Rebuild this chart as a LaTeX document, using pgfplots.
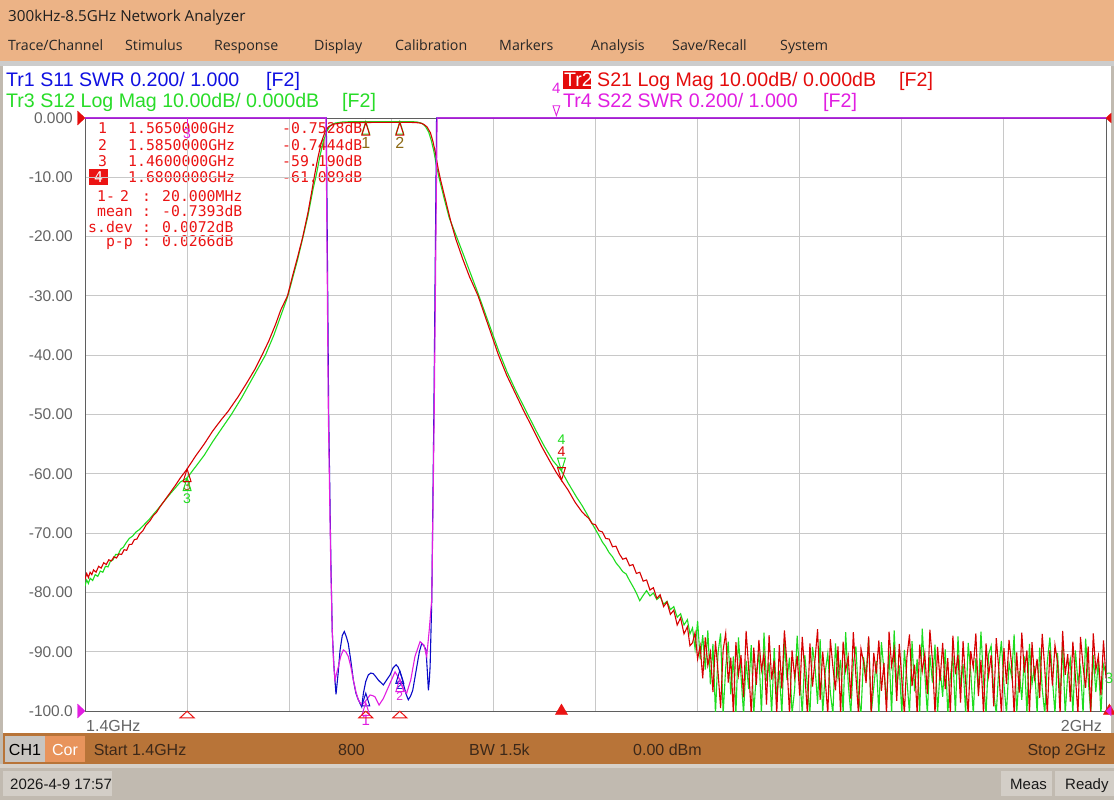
\documentclass[border=0pt]{standalone}
\usepackage{fontspec}
\usepackage{pgfplots}
\pgfplotsset{compat=1.18}
\setmainfont{Liberation Sans}
\newfontfamily\monof{DejaVu Sans Mono}
\newfontfamily\uif{Open Sans}
\newcommand{\fs}[1]{\fontsize{#1}{#1}\selectfont}
\definecolor{uiorange}{RGB}{236,179,134}
\definecolor{uistrip}{RGB}{204,204,204}
\definecolor{statbar}{RGB}{184,116,56}
\definecolor{basegray}{RGB}{193,186,176}
\definecolor{lightstrip}{RGB}{214,209,202}
\definecolor{boxgray}{RGB}{211,206,199}
\definecolor{ch1gray}{RGB}{200,197,193}
\definecolor{corcol}{RGB}{232,148,92}
\definecolor{stattext}{RGB}{60,40,25}
\definecolor{tr1}{RGB}{16,16,225}
\definecolor{tr2}{RGB}{228,12,12}
\definecolor{tr3}{RGB}{40,220,40}
\definecolor{s21}{RGB}{215,0,0}
\definecolor{s12}{RGB}{30,220,30}
\definecolor{s11}{RGB}{10,10,200}
\definecolor{s22}{RGB}{225,30,225}
\definecolor{gridc}{RGB}{200,200,200}
\definecolor{framec}{RGB}{95,95,95}
\definecolor{ticklab}{RGB}{100,100,100}
\definecolor{olivec}{RGB}{140,105,20}
\definecolor{mkred}{RGB}{235,20,20}
\begin{document}
\begin{tikzpicture}
\useasboundingbox (0,0) rectangle (1114pt,-800pt);
\begin{scope}[x=1pt,y=-1pt]
 \fill[basegray] (0,0) rectangle (1114,800);
 \fill[uiorange] (0,0) rectangle (1114,61.5);
 \fill[uistrip] (0,61.5) rectangle (1114,66);
 \fill[white] (3,66) rectangle (1111,732.5);
 \fill[statbar] (3,732.5) rectangle (1114,764);
 \fill[lightstrip] (0,764) rectangle (1114,767.5);
 \fill[ch1gray] (5,736) rectangle (45,761.5);
 \fill[corcol] (45,736) rectangle (85,761.5);
 \fill[boxgray] (3,771) rectangle (112,796);
 \fill[boxgray] (1001,771) rectangle (1052,796);
 \fill[boxgray] (1055,771) rectangle (1114,796);
 % title and menu
 \node[anchor=base west,inner sep=0,font=\uif\fs{15.2},text=black!88] at (8,21.5) {300kHz-8.5GHz Network Analyzer};
 \begin{scope}[every node/.style={anchor=base west,inner sep=0,font=\uif\fs{14.2},text=black!85}]
 \node at (8,50.5) {Trace/Channel};
 \node at (125,50.5) {Stimulus};
 \node at (214,50.5) {Response};
 \node at (314,50.5) {Display};
 \node at (395,50.5) {Calibration};
 \node at (499,50.5) {Markers};
 \node at (591,50.5) {Analysis};
 \node at (672,50.5) {Save/Recall};
 \node at (780,50.5) {System};
 \end{scope}
 % trace headers
 \begin{scope}[every node/.style={anchor=base west,inner sep=0,font=\fs{19.6}}]
 \node[text=tr1] at (6,87) {Tr1 S11 SWR 0.200/ 1.000};
 \node[text=tr1] at (266,87) {[F2]};
 \node[text=tr3] at (6,107) {Tr3 S12 Log Mag 10.00dB/ 0.000dB};
 \node[text=tr3] at (342,107) {[F2]};
 \fill[tr2] (563,71) rectangle (591,89.5);
 \node[text=white] at (564,87) {Tr2};
 \node[text=tr2] at (597,87) {S21 Log Mag 10.00dB/ 0.000dB};
 \node[text=tr2] at (899,87) {[F2]};
 \node[text=s22] at (563,107) {Tr4 S22 SWR 0.200/ 1.000};
 \node[text=s22] at (823,107) {[F2]};
 \end{scope}
 % marker table
 \begin{scope}[every node/.style={inner sep=0,font=\monof\fs{14.8},text=mkred}]
 \node[anchor=base] at (102.5,133) {1};
 \node[anchor=base west] at (128,133) {1.5650000GHz};
 \node[anchor=base west] at (282,133) {-0.7528dB};
 \node[anchor=base] at (102.5,150) {2};
 \node[anchor=base west] at (128,150) {1.5850000GHz};
 \node[anchor=base west] at (282,150) {-0.7444dB};
 \node[anchor=base] at (102.5,166) {3};
 \node[anchor=base west] at (128,166) {1.4600000GHz};
 \node[anchor=base west] at (282,166) {-59.190dB};
 \fill[mkred] (89,169) rectangle (108,184.5);
 \node[anchor=base,text=white] at (98.5,182) {4};
 \node[anchor=base west] at (128,182) {1.6800000GHz};
 \node[anchor=base west] at (282,182) {-61.089dB};
 \node[anchor=base west] at (97,201.5) {1-};
 \node[anchor=base west] at (120,201.5) {2};
 \node[anchor=base] at (146.5,201.5) {:};
 \node[anchor=base west] at (162,201.5) {20.000MHz};
 \node[anchor=base east] at (133,216.5) {mean};
 \node[anchor=base] at (146.5,216.5) {:};
 \node[anchor=base west] at (162,216.5) {-0.7393dB};
 \node[anchor=base east] at (133,232) {s.dev};
 \node[anchor=base] at (146.5,232) {:};
 \node[anchor=base west] at (162,232) {0.0072dB};
 \node[anchor=base east] at (133,246.5) {p-p};
 \node[anchor=base] at (146.5,246.5) {:};
 \node[anchor=base west] at (162,246.5) {0.0266dB};
 \end{scope}
 % axis end labels
 \node[anchor=base west,inner sep=0,font=\fs{16},text=ticklab] at (86,731) {1.4GHz};
 \node[anchor=base east,inner sep=0,font=\fs{16},text=ticklab] at (1102,731) {2GHz};
 \node[inner sep=0,font=\fs{15},text=tr3] at (1109,678) {3};
 % status bar
 \begin{scope}[every node/.style={inner sep=0,font=\fs{16},text=stattext}]
 \node[anchor=base,text=black] at (25,755) {CH1};
 \node[anchor=base,text=white] at (65,755) {Cor};
 \node[anchor=base west] at (93.6,755) {Start 1.4GHz};
 \node[anchor=base west] at (338,755) {800};
 \node[anchor=base west] at (469,755) {BW 1.5k};
 \node[anchor=base west] at (633,755) {0.00 dBm};
 \node[anchor=base east] at (1106,755) {Stop 2GHz};
 \end{scope}
 \begin{scope}[every node/.style={inner sep=0,font=\fs{15},text=black!90,anchor=base west}]
 \node at (10,789) {2026-4-9 17:57};
 \node at (1010,789) {Meas};
 \node at (1065,789) {Ready};
 \end{scope}
\end{scope}

% ---------------- main dB axis (S21, S12)
\begin{axis}[
  at={(85pt,-711pt)}, anchor=south west,
  width=1021pt, height=593pt, scale only axis,
  xmin=1400, xmax=2000, ymin=-100, ymax=0,
  xtick={1400,1460,...,2000}, xticklabels={},
  ytick={-100,-90,...,0},
  yticklabels={-100.0,-90.00,-80.00,-70.00,-60.00,-50.00,-40.00,-30.00,-20.00,-10.00,0.000},
  grid=major, major grid style={gridc, line width=1pt},
  major tick length=0pt,
  axis line style={framec, line width=1pt},
  yticklabel style={font={\fs{15.5}}, text=ticklab, anchor=east, inner sep=0pt, xshift=-12pt},
  clip=true,
]
% S12 (green)
\addplot[s12, line width=1.1pt] coordinates {
(1400,-78.9) (1401,-77.9) (1402,-78.5) (1403,-77.6) (1404.5,-78) (1406,-77) (1407.5,-77.3) (1409,-76.4) (1410.5,-76.6) (1412,-75.6)
(1413.5,-75.7) (1415,-74.7) (1416.5,-74.5) (1418,-73.6) (1419.5,-73.6) (1421,-72.7) (1422.5,-72.4) (1424,-71.7) (1426,-70.9) (1428,-70.5)
(1430,-69.8) (1432,-69.4) (1434,-68.8) (1436,-68.2) (1438,-67.6) (1440,-66.9) (1443,-65.9) (1446,-64.8) (1450,-63.4) (1453,-62.4)
(1456,-61.4) (1460,-60.7) (1465,-58.8) (1470,-56.9) (1475,-54.6) (1480,-52.5) (1486,-50) (1492,-47.2) (1498,-44.1) (1506,-40)
(1511,-36.6) (1515,-33.4) (1519,-30.2) (1522,-27) (1525,-23.8) (1528,-20.2) (1531,-16.5) (1534,-12) (1536,-9.5) (1538,-6.5)
(1540,-4) (1542,-2.3) (1544,-1.3) (1547,-0.85) (1552,-0.65) (1565,-0.6) (1590,-0.6) (1595,-0.66) (1598,-0.9) (1600,-1.4)
(1602,-2.4) (1603.5,-3.8) (1605,-5.6) (1606.5,-8) (1608,-10) (1611,-13.5) (1614,-16.8) (1619,-20.5) (1623,-23.5) (1626,-25.8)
(1631,-29.6) (1637,-34.4) (1643,-39.2) (1648,-42.8) (1653,-45.9) (1659,-49.3) (1665,-52.7) (1670,-55.4) (1675,-57.8) (1680,-59.5)
(1684,-61.6) (1689,-64) (1692,-65.3) (1695,-66.8) (1698,-68.4) (1700,-69.4) (1702,-70.4) (1704,-71.5) (1706,-72.3) (1708,-73.3)
(1710,-74) (1712,-75) (1714,-75.7) (1716,-76.5) (1718,-76.9) (1720,-78) (1722,-79) (1724,-80.1) (1726,-81.4) (1728,-80.5)
(1730,-79.7) (1732,-80.6) (1734,-80.1) (1736,-81.2) (1738,-80.7) (1740,-82) (1742,-81.5) (1744,-82.9) (1746,-82.4) (1748,-84.2)
(1750,-83.6) (1752,-85.5) (1754,-84.6) (1755.5,-87)
(1757,-86) (1758.5,-89.5) (1760,-84.8) (1761.5,-91.3) (1763,-87.2) (1764.5,-93) (1766,-86.4) (1767.5,-95.5) (1769,-88.7) (1770.5,-100.5)
(1772,-90.2) (1773.5,-86.9) (1775,-100.5) (1776.5,-92.7) (1778,-88.3) (1779.5,-97.2) (1781,-90.8) (1782.5,-100.5) (1784,-87.6) (1785.5,-94.1)
(1787,-100.5) (1788.5,-91.5) (1790,-96.3) (1791.5,-88.9) (1793,-100.5) (1794.5,-93.6) (1796,-90.1) (1797.5,-100.5) (1799,-86.8) (1800.5,-95)
(1802,-91.8) (1803.5,-100.5) (1805,-89.4) (1806.5,-97.7) (1808,-93.2) (1809.5,-100.5) (1811,-88.1) (1812.5,-94.8) (1814,-91) (1815.5,-100.5)
(1817,-96.4) (1818.5,-87.3) (1820,-93.9) (1821.5,-100.5) (1823,-90.6) (1824.5,-95.8) (1826,-100.5) (1827.5,-89.2) (1829,-92.5) (1830.5,-98.8)
(1832,-87.9) (1833.5,-100.5) (1835,-93.4) (1836.5,-90.3) (1838,-96.9) (1839.5,-100.5) (1841,-88.6) (1842.5,-94.5) (1844,-91.4) (1845.5,-100.5)
(1847,-86.7) (1848.5,-95.3) (1850,-100.5) (1851.5,-92) (1853,-89.1) (1854.5,-97.4) (1856,-100.5) (1857.5,-90.9) (1859,-94) (1860.5,-87.8)
(1862,-100.5) (1863.5,-96) (1865,-91.6) (1866.5,-100.5) (1868,-88.4) (1869.5,-93.1) (1871,-98.5) (1872.5,-90) (1874,-100.5) (1875.5,-86.4)
(1877,-95.6) (1878.5,-92.3) (1880,-100.5) (1881.5,-89.7) (1883,-94.7) (1884.5,-100.5) (1886,-88.2) (1887.5,-96.7) (1889,-91.2) (1890.5,-100.5)
(1892,-86.1) (1893.5,-93.7) (1895,-100.5) (1896.5,-90.5) (1898,-95.2) (1899.5,-88.8) (1901,-100.5) (1902.5,-92.9) (1904,-97.6) (1905.5,-89.6)
(1907,-100.5) (1908.5,-94.3) (1910,-90.7) (1911.5,-100.5) (1913,-87.4) (1914.5,-95.9) (1916,-92.1) (1917.5,-100.5) (1919,-88.5) (1920.5,-93.5)
(1922,-100.5) (1923.5,-91.1) (1925,-96.6) (1926.5,-86.6) (1928,-94.9) (1929.5,-100.5) (1931,-90.4) (1932.5,-89) (1934,-97) (1935.5,-100.5)
(1937,-92.6) (1938.5,-88.2) (1940,-95.4) (1941.5,-100.5) (1943,-91.9) (1944.5,-94.2) (1946,-87.1) (1947.5,-100.5) (1949,-93.3) (1950.5,-98.1)
(1952,-90.8) (1953.5,-100.5) (1955,-88.7) (1956.5,-95.5) (1958,-92.4) (1959.5,-100.5) (1961,-89.3) (1962.5,-96.2) (1964,-100.5) (1965.5,-91.7)
(1967,-87.6) (1968.5,-94.6) (1970,-100.5) (1971.5,-90.2) (1973,-97.9) (1974.5,-88.9) (1976,-100.5) (1977.5,-93.8) (1979,-91.3) (1980.5,-100.5)
(1982,-89.8) (1983.5,-95.1) (1985,-92.7) (1986.5,-100.5) (1988,-87.8) (1989.5,-94.4) (1991,-100.5) (1992.5,-90.6) (1994,-96.8) (1995.5,-91.5)
(1997,-100.5) (1998.5,-92.2) (2000,-93.7)
};
% S21 (red)
\addplot[s21, line width=1.1pt] coordinates {
(1400,-77.8) (1401,-76.8) (1402,-77.5) (1403,-76.6) (1404,-77) (1405,-76.2) (1406.5,-76.6) (1408,-75.6) (1409.5,-75.9) (1411,-75)
(1412.5,-75.3) (1414,-74.5) (1415.5,-74.7) (1417,-74) (1418.5,-74.2) (1420,-73.5) (1421.5,-73.6) (1423,-72.8) (1424.5,-72.9) (1426,-71.9)
(1427.5,-71.9) (1429,-71.1) (1430.5,-71) (1432,-70.2) (1434,-69.6) (1436,-68.6) (1438,-68) (1440,-67.1) (1442,-66.5) (1444,-65.6)
(1447,-64.4) (1450,-63.2) (1453,-62) (1456,-60.7) (1460,-59.19) (1465,-57) (1470,-55) (1475,-52.8) (1480,-50.9) (1484,-49.5)
(1490,-47) (1495,-44.7) (1500,-42.3) (1504,-40) (1508,-37.6) (1512,-34.8) (1515,-32.4) (1519,-30) (1522,-26.6) (1525,-23.4)
(1528,-20) (1531,-16) (1533.5,-12) (1535,-9.5) (1537,-6.5) (1539,-4) (1541,-2.4) (1543,-1.5) (1546,-1.05) (1550,-0.85)
(1555,-0.77) (1565,-0.7528) (1575,-0.745) (1585,-0.7444) (1590,-0.74) (1594,-0.76) (1597,-0.85) (1599,-1.05) (1601,-1.5) (1603,-2.5)
(1604.5,-4) (1606,-6) (1607.5,-8.5) (1609,-10.5) (1612,-14) (1615,-17.5) (1618,-20.5) (1622,-23.8) (1626,-26.8) (1631,-30)
(1637,-35) (1643,-40) (1648,-43.5) (1653,-46.5) (1658,-49.5) (1663,-52.3) (1668,-55.2) (1673,-57.8) (1677,-59.8) (1680,-61.089)
(1684,-62.8) (1688,-64.8) (1690,-65.6) (1692,-66.4) (1694,-67) (1696,-67.5) (1698,-68.4) (1700,-68.6) (1702,-69.6) (1704,-69.8)
(1706,-70.9) (1708,-71) (1710,-72.3) (1712,-72.2) (1714,-73.5) (1716,-74.4) (1718,-74.2) (1720,-75.5) (1722,-75.3) (1724,-76.8)
(1726,-76.6) (1728,-78.1) (1730,-77.9) (1732,-79.6) (1734,-79.2) (1736,-81) (1738,-80.4) (1740,-82.4) (1742,-81.6) (1744,-83.7)
(1746,-83) (1748,-85.5) (1750,-84.3) (1752,-87) (1754,-85.8) (1755.5,-89)
(1757,-88.5) (1758.5,-86.8) (1760,-91.2) (1761.5,-89) (1763,-94.5) (1764.5,-87.6) (1766,-92.3) (1767.5,-90.1) (1769,-96.8) (1770.5,-88.2)
(1772,-93.4) (1773.5,-99.5) (1775,-89.7) (1776.5,-86.9) (1778,-95.2) (1779.5,-91) (1781,-100.5) (1782.5,-88.4) (1784,-93.9) (1785.5,-90.6)
(1787,-97.7) (1788.5,-86.5) (1790,-92.8) (1791.5,-100.5) (1793,-89.3) (1794.5,-95.6) (1796,-88) (1797.5,-93.1) (1799,-90.4) (1800.5,-98.9)
(1802,-87.2) (1803.5,-94.7) (1805,-91.5) (1806.5,-100.5) (1808,-88.9) (1809.5,-96.2) (1811,-86.4) (1812.5,-92) (1814,-100.5) (1815.5,-89.8)
(1817,-94.3) (1818.5,-90.7) (1820,-97.4) (1821.5,-87.5) (1823,-93.6) (1824.5,-100.5) (1826,-88.6) (1827.5,-95.9) (1829,-91.3) (1830.5,-86.2)
(1832,-98.1) (1833.5,-90) (1835,-94.8) (1836.5,-100.5) (1838,-87.9) (1839.5,-92.6) (1841,-96.5) (1842.5,-89.1) (1844,-100.5) (1845.5,-88.3)
(1847,-93.2) (1848.5,-90.8) (1850,-97.9) (1851.5,-86.7) (1853,-94) (1854.5,-100.5) (1856,-89.5) (1857.5,-91.7) (1859,-95.3) (1860.5,-87.4)
(1862,-100.5) (1863.5,-90.2) (1865,-93.7) (1866.5,-88.1) (1868,-96.6) (1869.5,-91.9) (1871,-100.5) (1872.5,-86.6) (1874,-92.4) (1875.5,-89.6)
(1877,-98.3) (1878.5,-88.7) (1880,-94.6) (1881.5,-100.5) (1883,-90.9) (1884.5,-87.1) (1886,-95.8) (1887.5,-92.2) (1889,-100.5) (1890.5,-88.8)
(1892,-93.3) (1893.5,-90.3) (1895,-97.1) (1896.5,-86.3) (1898,-91.6) (1899.5,-100.5) (1901,-89.2) (1902.5,-94.9) (1904,-88.5) (1905.5,-96.3)
(1907,-91.1) (1908.5,-100.5) (1910,-87.3) (1911.5,-93.8) (1913,-90.5) (1914.5,-98.6) (1916,-88.2) (1917.5,-95.1) (1919,-100.5) (1920.5,-89.9)
(1922,-92.7) (1923.5,-86.9) (1925,-97.5) (1926.5,-91.4) (1928,-100.5) (1929.5,-88.6) (1931,-94.1) (1932.5,-90.6) (1934,-99.2) (1935.5,-87.7)
(1937,-93) (1938.5,-100.5) (1940,-89.4) (1941.5,-95.4) (1943,-88) (1944.5,-92.1) (1946,-100.5) (1947.5,-90.1) (1949,-96.9) (1950.5,-86.8)
(1952,-93.5) (1953.5,-89.8) (1955,-100.5) (1956.5,-88.4) (1958,-94.4) (1959.5,-91.2) (1961,-97.8) (1962.5,-87) (1964,-92.9) (1965.5,-100.5)
(1967,-89.7) (1968.5,-95.7) (1970,-88.9) (1971.5,-91.8) (1973,-100.5) (1974.5,-86.5) (1976,-93.9) (1977.5,-90.4) (1979,-98.4) (1980.5,-88.3)
(1982,-94.2) (1983.5,-100.5) (1985,-87.5) (1986.5,-92.5) (1988,-96.1) (1989.5,-89.1) (1991,-100.5) (1992.5,-86.9) (1994,-93.1) (1995.5,-90.7)
(1997,-97.3) (1998.5,-88.1) (2000,-94.5)
};
\end{axis}

% ---------------- SWR axis (S11, S22): 1.000 at bottom, 0.200 per division
\begin{axis}[
  at={(85pt,-711pt)}, anchor=south west,
  width=1021pt, height=593pt, scale only axis,
  xmin=1400, xmax=2000, ymin=1, ymax=3,
  hide axis, clip=false,
]
\addplot[s11, line width=1.1pt] coordinates {
(1400,3) (1541.8,3) (1543.2,2) (1544.5,1.5) (1545.3,1.268) (1546.3,1.15) (1547.5,1.056) (1548.8,1.13) (1549.9,1.206) (1551.2,1.255)
(1552.4,1.268) (1553.6,1.25) (1554.7,1.228) (1556.2,1.17) (1557.7,1.104) (1559.2,1.06) (1560.6,1.038) (1562.6,1.014) (1563.6,1.06) (1565,1.1)
(1566.5,1.122) (1568,1.128) (1569.4,1.126) (1571,1.115) (1572.4,1.104) (1575.3,1.088) (1577.3,1.105) (1579.3,1.122) (1581,1.145) (1582.8,1.156)
(1584,1.148) (1585.1,1.132) (1586.3,1.11) (1587.5,1.082) (1588.8,1.055) (1590,1.038) (1591.3,1.05) (1592.6,1.07) (1593.8,1.11) (1595,1.15)
(1596.5,1.2) (1597.9,1.228) (1599.2,1.22) (1600.4,1.206) (1601.1,1.14) (1601.8,1.07) (1602.3,1.1) (1602.8,1.15) (1603.8,1.38) (1605,2)
(1606.6,3) (2000,3)
};
\addplot[s22, line width=1.1pt] coordinates {
(1400,3) (1541.6,3) (1543,2) (1544.4,1.5) (1545.3,1.268) (1546.1,1.16) (1546.9,1.104) (1548,1.13) (1548.9,1.15) (1550.3,1.185)
(1551.8,1.206) (1553.2,1.2) (1554.7,1.184) (1556.2,1.15) (1557.7,1.104) (1559.2,1.065) (1560.6,1.038) (1562.6,1.02) (1564,1.028) (1565.5,1.038)
(1567.5,1.054) (1569,1.052) (1570.4,1.048) (1572.8,1.02) (1575.3,1.042) (1577.3,1.068) (1579.3,1.094) (1582.2,1.132) (1585.1,1.104) (1587.5,1.07)
(1589,1.06) (1591.4,1.104) (1593.9,1.184) (1596.9,1.234) (1599.2,1.222) (1600.8,1.184) (1602.3,1.274) (1603.8,1.38) (1605.2,2) (1606.9,3)
(2000,3)
};
\end{axis}

% ---------------- markers overlay (dB grid units)
\begin{axis}[
  at={(85pt,-711pt)}, anchor=south west,
  width=1021pt, height=593pt, scale only axis,
  xmin=1400, xmax=2000, ymin=-100, ymax=0,
  hide axis, clip=false,
  mkup/.style={only marks, mark=triangle, mark size=7pt, mark options={solid, line width=1pt, yshift=-8.4pt, xscale=0.65, yscale=1.2}},
  mkdn/.style={only marks, mark=triangle, mark size=7pt, mark options={solid, line width=1pt, yshift=8.4pt, rotate=180, xscale=0.65, yscale=1.2}},
  ind/.style={only marks, mark size=7pt, mark options={solid, line width=1pt, yshift=-4.6pt, xscale=1.15, yscale=0.62}},
]
\addplot[s12, mkup] coordinates {(1565,-0.6) (1585,-0.6) (1460,-60.7)};
\addplot[s21, mkup] coordinates {(1565,-0.7528) (1585,-0.7444) (1460,-59.19)};
\addplot[s12, mkdn] coordinates {(1680,-59.5)};
\addplot[s21, mkdn] coordinates {(1680,-61.089)};
\addplot[s11, mkup] coordinates {(1565,-97) (1585,-93.2)};
\addplot[s22, mkup] coordinates {(1565,-98.6) (1585,-94.6)};
\addplot[s22, only marks, mark=triangle, mark size=6pt, mark options={solid, line width=0.9pt, yshift=9pt, rotate=180, xscale=0.65, yscale=1.1}] coordinates {(1677,0)};
% stimulus-axis marker indicators
\addplot[mkred, ind, mark=triangle] coordinates {(1460,-100) (1565,-100) (1585,-100)};
\addplot[mkred, ind, mark=triangle*, mark options={fill=mkred}] coordinates {(1680,-100) (2002,-100)};
% reference position indicators
\addplot[tr2, only marks, mark=triangle*, mark size=8pt, mark options={solid, xshift=-5pt, xscale=0.62, rotate=-90}] coordinates {(1400,0)};
\addplot[s22, only marks, mark=triangle*, mark size=8pt, mark options={solid, xshift=-5pt, xscale=0.62, rotate=-90}] coordinates {(1400,-100)};
\addplot[tr2, only marks, mark=triangle*, mark size=5.5pt, mark options={solid, xshift=3.4pt, xscale=0.62, rotate=90}] coordinates {(2000,0)};
\addplot[s22, only marks, mark=triangle*, mark size=5.5pt, mark options={solid, xshift=3.4pt, xscale=0.62, rotate=90}] coordinates {(2000,-100)};
% marker labels
\node[text=olivec, font=\fs{16}, inner sep=0, yshift=-20.5pt] at (axis cs:1565,-0.75) {1};
\node[text=olivec, font=\fs{16}, inner sep=0, yshift=-20.5pt] at (axis cs:1585,-0.75) {2};
\node[text=olivec, font=\fs{14}, inner sep=0, yshift=-17pt] at (axis cs:1460,-59.19) {3};
\node[text=s12, font=\fs{14}, inner sep=0, yshift=-21pt] at (axis cs:1460,-60.7) {3};
\node[text=s21, font=\fs{14}, inner sep=0, yshift=29pt] at (axis cs:1680,-61.089) {4};
\node[text=s12, font=\fs{14}, inner sep=0, yshift=31pt] at (axis cs:1680,-59.5) {4};
\node[text=s22, font=\fs{15}, inner sep=0, yshift=-9pt] at (axis cs:1565,-100) {1};
\node[text=s11, font=\fs{12}, inner sep=0] at (axis cs:1585,-95.6) {2};
\node[text=s22, font=\fs{12}, inner sep=0] at (axis cs:1585,-97.5) {2};
\draw[s22, line width=1pt] (axis cs:1460,0) -- ++(0pt,-8pt);
\node[text=s22, font=\fs{14}, inner sep=0, yshift=-16pt] at (axis cs:1460,0) {3};
\node[text=s22, font=\fs{15}, inner sep=0, yshift=30pt] at (axis cs:1677,0) {4};
\end{axis}
\end{tikzpicture}
\end{document}
